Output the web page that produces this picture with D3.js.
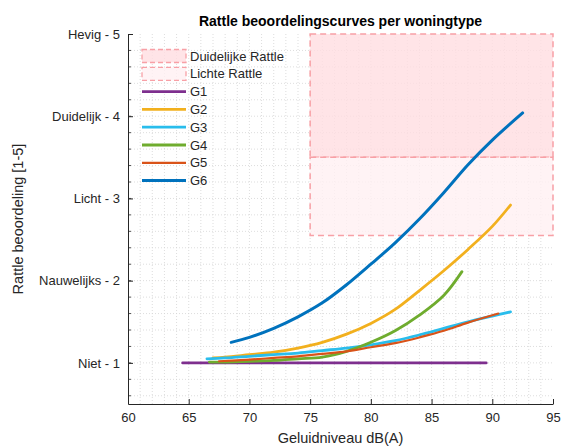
<!DOCTYPE html>
<html>
<head>
<meta charset="utf-8">
<script src="https://cdn.jsdelivr.net/npm/d3@7"></script>
<style>
body{margin:0;background:#fff;}
text{font-family:"Liberation Sans",Arial,sans-serif;}
</style>
</head>
<body>
<script>
var canvaswidth=565;
var canvasheight=448;

var groups=["G1","G2","G3","G4","G5","G6"];
var colors=["#7e2f8e","#f2b01e","#29bdec","#6fac2e","#d95319","#0072bd"];
var widths=[2.8,2.8,2.8,2.8,2.2,3];

// dB(A) sample points per group
var g1x=[64.5,89.5];
var g1y=[1,1];
var g2x=[67,68,70,72,74,76,78,80,82,84,86,88,90,91.5];
var g2y=[1.06,1.07,1.1,1.13,1.18,1.25,1.35,1.48,1.65,1.88,2.12,2.38,2.66,2.92];
var g3x=[66.5,68,70,72,74,76,78,80,82,84,86,88,90,91.5];
var g3y=[1.05,1.06,1.08,1.1,1.12,1.15,1.18,1.22,1.27,1.34,1.42,1.5,1.57,1.62];
var g4x=[66.7,68,70,72,74,76,78,80,82,84,86,87.5];
var g4y=[1.01,1.01,1.02,1.03,1.05,1.07,1.14,1.25,1.39,1.58,1.82,2.11];
var g5x=[67.5,70,72,74,76,78,80,82,84,86,88,90.5];
var g5y=[1.02,1.04,1.06,1.08,1.11,1.14,1.19,1.24,1.31,1.39,1.49,1.6];
var g6x=[68.5,70,72,74,76,78,80,82,84,86,88,90,92.5];
var g6y=[1.25,1.31,1.42,1.56,1.73,1.95,2.2,2.46,2.75,3.07,3.41,3.71,4.04];
var seriesx=[g1x,g2x,g3x,g4x,g5x,g6x];
var seriesy=[g1y,g2y,g3y,g4y,g5y,g6y];

var xticks=[60,65,70,75,80,85,90,95];
var yticks=[1,2,3,4,5];
var ylabels=["Niet - 1","Nauwelijks - 2","Licht - 3","Duidelijk - 4","Hevig  - 5"];

// rattle zones [x0,x1,y0,y1]
var zonenames=["Duidelijke Rattle","Lichte Rattle"];
var zonex0=[75,75];
var zonex1=[95,95];
var zoney0=[3.5,2.55];
var zoney1=[5,3.5];
var zonefill=["#ffdde1","#fff0f2"];

var mleft=128,mright=553,mtop=34,mbottom=404; // "top" is taken by window.top

var svg=d3.select("body").append("svg").attr("width",canvaswidth).attr("height",canvasheight);

var x=d3.scaleLinear().domain([60,95]).range([mleft,mright]);
var y=d3.scaleLinear().domain([0.5,5]).range([mbottom,mtop]);

// grid (dotted, minor + major)
var gx=d3.range(61,95,1);
var gy=d3.range(0.6,5,0.2);
svg.append("g").selectAll("line").data(gx).enter().append("line")
	.attr("x1",function(d){return x(d);}).attr("x2",function(d){return x(d);})
	.attr("y1",mtop).attr("y2",mbottom).attr("stroke","#d4d4d4").attr("stroke-width",0.8).attr("stroke-dasharray","1,2");
svg.append("g").selectAll("line").data(gy).enter().append("line")
	.attr("x1",mleft).attr("x2",mright)
	.attr("y1",function(d){return y(d);}).attr("y2",function(d){return y(d);})
	.attr("stroke","#d4d4d4").attr("stroke-width",0.8).attr("stroke-dasharray","1,2");

// zones
zonenames.forEach(function(n,i){
	svg.append("rect").attr("x",x(zonex0[i])).attr("y",y(zoney1[i]))
		.attr("width",x(zonex1[i])-x(zonex0[i])).attr("height",y(zoney0[i])-y(zoney1[i]))
		.attr("fill",zonefill[i]).attr("fill-opacity",0.8)
		.attr("stroke","#f8a0a6").attr("stroke-width",1.5).attr("stroke-dasharray","6,4");
});

// curves
var line=d3.line().x(function(d){return x(d[0]);}).y(function(d){return y(d[1]);}).curve(d3.curveCatmullRom);
groups.forEach(function(g,i){
	var pts=seriesx[i].map(function(v,j){return [v,seriesy[i][j]];});
	svg.append("path").attr("d",line(pts)).attr("fill","none")
		.attr("stroke",colors[i]).attr("stroke-width",widths[i]).attr("stroke-linecap","round");
});

// axes
var xax=svg.append("g").attr("transform","translate(0,"+mbottom+")")
	.call(d3.axisBottom(x).tickValues(xticks).tickSizeInner(-5).tickSizeOuter(0).tickPadding(9));
var yax=svg.append("g").attr("transform","translate("+mleft+",0)")
	.call(d3.axisLeft(y).tickValues(yticks).tickFormat(function(d,i){return ylabels[i];}).tickSizeInner(-5).tickSizeOuter(0).tickPadding(8));
[xax,yax].forEach(function(a){
	a.select(".domain").attr("stroke","#262626");
	a.selectAll(".tick line").attr("stroke","#262626");
	a.selectAll(".tick text").attr("fill","#262626").attr("font-size",13).style("font-family","Liberation Sans, Arial, sans-serif");
});
// minor ticks on y
svg.append("g").selectAll("line").data(gy).enter().append("line")
	.attr("x1",mleft).attr("x2",mleft+3).attr("y1",function(d){return y(d);}).attr("y2",function(d){return y(d);})
	.attr("stroke","#262626").attr("stroke-width",0.8);

// labels
svg.append("text").text("Rattle beoordelingscurves per woningtype").attr("x",(mleft+mright)/2).attr("y",26)
	.attr("text-anchor","middle").attr("font-size",14).attr("font-weight","bold").attr("fill","#000");
svg.append("text").text("Geluidniveau dB(A)").attr("x",(mleft+mright)/2).attr("y",443)
	.attr("text-anchor","middle").attr("font-size",14.5).attr("fill","#262626");
svg.append("text").text("Rattle beoordeling [1-5]").attr("transform","translate(23,"+((mtop+mbottom)/2)+") rotate(-90)")
	.attr("text-anchor","middle").attr("font-size",14.5).attr("fill","#262626");

// legend
var ly=56, lstep=17.8;
zonenames.forEach(function(n,i){
	svg.append("rect").attr("x",142).attr("y",ly+i*lstep-6.5).attr("width",44).attr("height",13)
		.attr("fill",zonefill[i]).attr("fill-opacity",0.8)
		.attr("stroke","#f8a0a6").attr("stroke-width",1.3).attr("stroke-dasharray","5,3");
	svg.append("text").text(n).attr("x",190).attr("y",ly+i*lstep+4.5).attr("font-size",13).attr("fill","#262626");
});
groups.forEach(function(g,i){
	var yy=ly+(i+2)*lstep;
	svg.append("line").attr("x1",142).attr("x2",186).attr("y1",yy).attr("y2",yy)
		.attr("stroke",colors[i]).attr("stroke-width",widths[i]);
	svg.append("text").text(g).attr("x",190).attr("y",yy+4.5).attr("font-size",13).attr("fill","#262626");
});
</script>
</body>
</html>
